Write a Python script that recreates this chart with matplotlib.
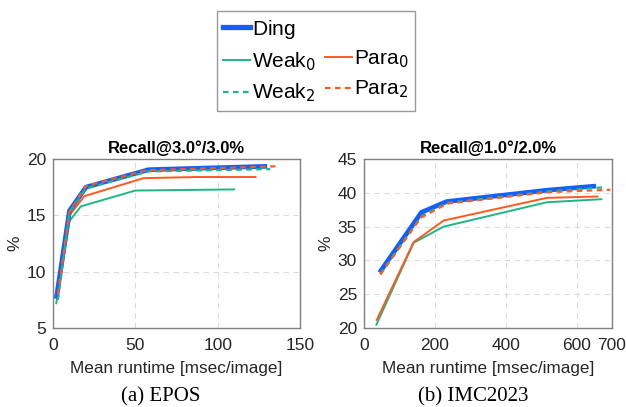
import matplotlib
matplotlib.use("Agg")
import matplotlib.pyplot as plt
from matplotlib.lines import Line2D

# EPOS: recall@3.0deg/3.0% vs mean runtime (msec/image)
epos_ding_x = [2, 10, 20, 58, 130]
epos_ding_y = [7.6, 15.4, 17.5, 19.05, 19.35]
epos_weak0_x = [2, 10, 17, 50, 110]
epos_weak0_y = [7.2, 14.5, 15.8, 17.2, 17.3]
epos_para0_x = [3, 10, 19, 55, 87, 123]
epos_para0_y = [8.0, 15.0, 16.7, 18.3, 18.4, 18.4]
epos_weak2_x = [3, 10, 20, 58, 132]
epos_weak2_y = [7.5, 15.3, 17.4, 18.9, 19.1]
epos_para2_x = [3, 10, 20, 57, 135]
epos_para2_y = [8.0, 15.3, 17.6, 19.0, 19.35]

# IMC2023: recall@1.0deg/2.0%
imc_ding_x = [44, 162, 233, 520, 655]
imc_ding_y = [28.2, 37.1, 38.7, 40.4, 41.0]
imc_weak0_x = [35, 140, 225, 516, 670]
imc_weak0_y = [20.5, 32.6, 35.0, 38.6, 39.05]
imc_para0_x = [36, 140, 225, 516, 659]
imc_para0_y = [21.2, 32.7, 35.9, 39.25, 39.45]
imc_weak2_x = [46, 163, 235, 520, 672]
imc_weak2_y = [28.0, 36.6, 38.5, 40.2, 40.8]
imc_para2_x = [46, 160, 235, 520, 695]
imc_para2_y = [27.9, 36.3, 38.4, 40.1, 40.45]

BLUE = "#1060ff"
GREEN = "#1fb585"
ORANGE = "#ff5a1e"
SANS = "Liberation Sans"
DASH = (2.5, 2)

fig = plt.figure(figsize=(6.26, 4.07), dpi=100)
fig.patch.set_facecolor("white")

ax1 = fig.add_axes([53 / 626, 1 - 328 / 407, 247 / 626, 169 / 407])
ax2 = fig.add_axes([364 / 626, 1 - 328 / 407, 248 / 626, 169 / 407])


def draw(ax, d, title, xlim, xticks, ylim, yticks):
    (dx, dy), (w0x, w0y), (p0x, p0y), (w2x, w2y), (p2x, p2y) = d
    ax.plot(w0x, w0y, color=GREEN, lw=1.4)
    ax.plot(p0x, p0y, color=ORANGE, lw=1.4)
    ax.plot(dx, dy, color=BLUE, lw=3.4, solid_capstyle="butt")
    ax.plot(w2x, w2y, color=GREEN, lw=1.6, dashes=DASH)
    ax.plot(p2x, p2y, color=ORANGE, lw=1.6, dashes=DASH)
    ax.set_xlim(*xlim)
    ax.set_ylim(*ylim)
    ax.set_xticks(xticks)
    ax.set_yticks(yticks)
    ax.grid(True, color="#dcdcdc", linestyle=(0, (5, 4)), lw=0.8)
    ax.set_axisbelow(True)
    for s in ax.spines.values():
        s.set_color("#808080")
        s.set_linewidth(1.0)
    ax.tick_params(length=0, labelsize=12.5, labelcolor="#262626", pad=5)
    ax.tick_params(axis="x", pad=7)
    for lab in ax.get_xticklabels() + ax.get_yticklabels():
        lab.set_family(SANS)
    ax.set_title(title, fontsize=12, fontweight="bold", family=SANS, pad=4)
    ax.set_xlabel("Mean runtime [msec/image]", fontsize=12.3, family=SANS,
                  color="#262626", labelpad=6)
    ax.set_ylabel("%", fontsize=12.5, family=SANS, color="#262626", labelpad=3)


draw(ax1,
     [(epos_ding_x, epos_ding_y), (epos_weak0_x, epos_weak0_y),
      (epos_para0_x, epos_para0_y), (epos_weak2_x, epos_weak2_y),
      (epos_para2_x, epos_para2_y)],
     "Recall@3.0°/3.0%", (0, 150), [0, 50, 100, 150], (5, 20), [5, 10, 15, 20])
draw(ax2,
     [(imc_ding_x, imc_ding_y), (imc_weak0_x, imc_weak0_y),
      (imc_para0_x, imc_para0_y), (imc_weak2_x, imc_weak2_y),
      (imc_para2_x, imc_para2_y)],
     "Recall@1.0°/2.0%", (0, 700), [0, 200, 400, 600, 700], (20, 45),
     [20, 25, 30, 35, 40, 45])

fig.text(161 / 626, 1 - 397 / 407, "(a) EPOS", ha="center", va="center",
         fontsize=15, family="Liberation Serif")
fig.text(473 / 626, 1 - 397 / 407, "(b) IMC2023", ha="center", va="center",
         fontsize=15, family="Liberation Serif")

handles = [
    Line2D([], [], color=BLUE, lw=3.8),
    Line2D([], [], color=GREEN, lw=1.4),
    Line2D([], [], color=GREEN, lw=1.6, dashes=DASH),
    Line2D([], [], color="none"),
    Line2D([], [], color=ORANGE, lw=1.4),
    Line2D([], [], color=ORANGE, lw=1.6, dashes=DASH),
]
labels = [r"Ding$_{\ }$", r"Weak$_0$", r"Weak$_2$", r"$_{\ }$",
          r"Para$_0$", r"Para$_2$"]
leg = fig.legend(handles, labels, ncol=2, loc="center",
                 bbox_to_anchor=(316 / 626, 1 - 61 / 407),
                 prop={"family": SANS, "size": 15}, frameon=True,
                 fancybox=False, edgecolor="#808080", handlelength=1.3,
                 handletextpad=0.1, columnspacing=0.45, labelspacing=0.45,
                 borderpad=0.3, borderaxespad=0)
leg.get_frame().set_linewidth(1.0)

fig.savefig("out.png", dpi=100, facecolor="white")
